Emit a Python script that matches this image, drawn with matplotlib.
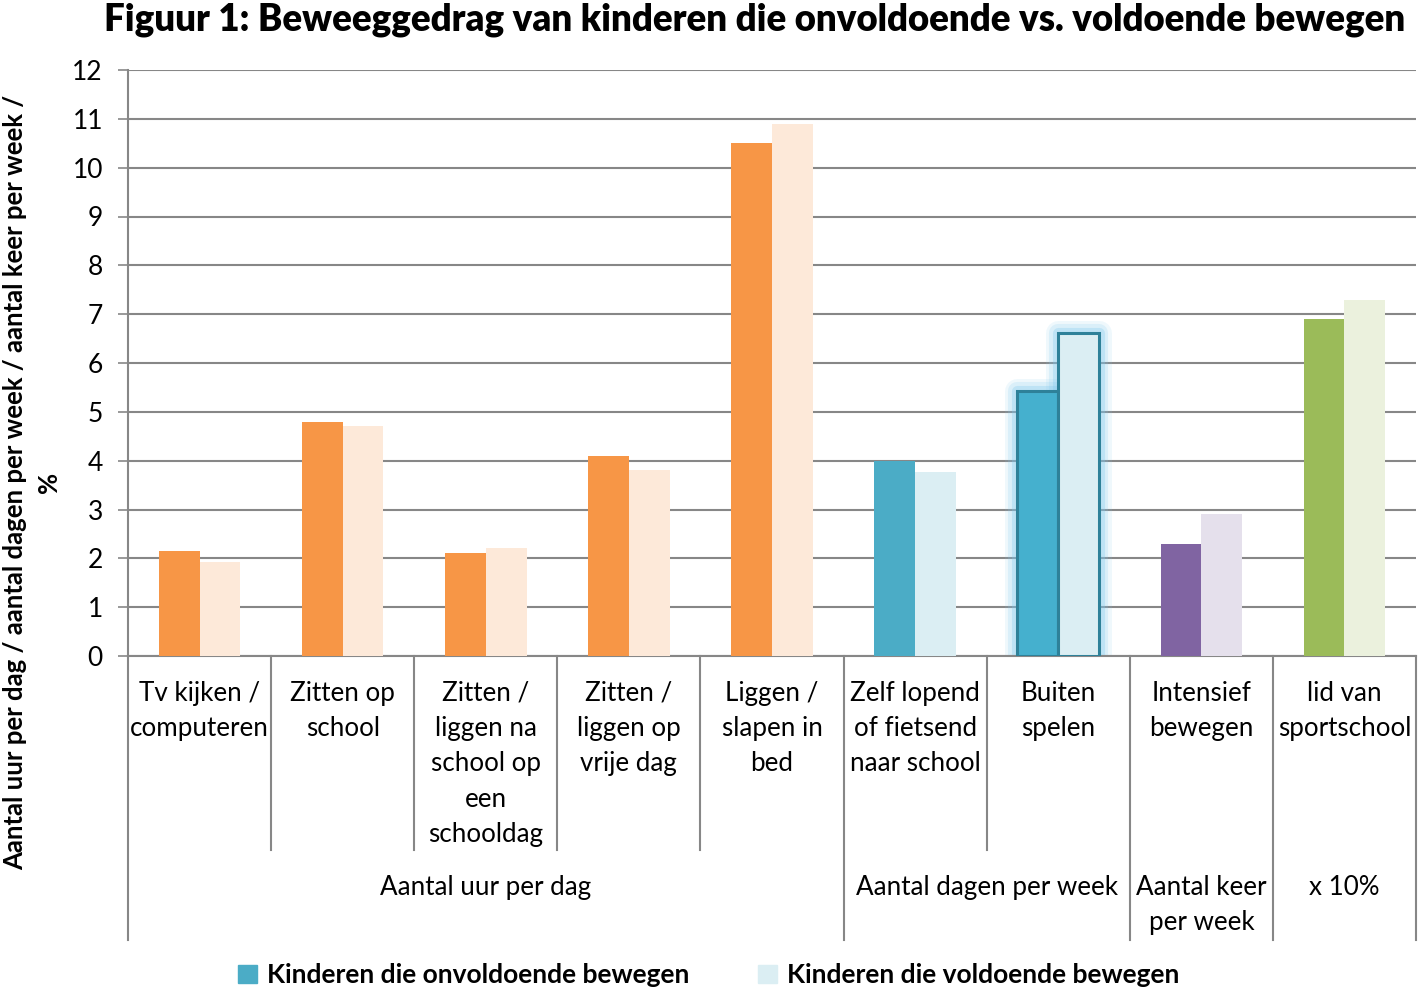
"""Beweeggedrag van kinderen: onvoldoende vs. voldoende bewegen"""

import matplotlib
matplotlib.use("Agg")
import matplotlib.pyplot as plt
import matplotlib.transforms as mtransforms
from matplotlib.patches import Patch

plt.rcParams["font.family"] = ["Lato", "DejaVu Sans"]

# data
categories = [
    "Tv kijken /\ncomputeren",
    "Zitten op\nschool",
    "Zitten /\nliggen na\nschool op\neen\nschooldag",
    "Zitten /\nliggen op\nvrije dag",
    "Liggen /\nslapen in\nbed",
    "Zelf lopend\nof fietsend\nnaar school",
    "Buiten\nspelen",
    "Intensief\nbewegen",
    "lid van\nsportschool",
]
onvoldoende = [2.15, 4.8, 2.1, 4.1, 10.5, 4.0, 5.42, 2.3, 6.9]
voldoende = [1.93, 4.7, 2.22, 3.8, 10.9, 3.77, 6.62, 2.9, 7.3]
groups = ["Aantal uur per dag", "Aantal dagen per week", "Aantal keer\nper week", "x 10%"]
group_sizes = [5, 2, 1, 1]
series_names = ["Kinderen die onvoldoende bewegen", "Kinderen die voldoende bewegen"]

# colours per category (dark, light)
dark = ["#F79646"] * 5 + ["#4BACC6"] * 2 + ["#8064A2", "#9BBB59"]
light = ["#FDE9D9"] * 5 + ["#DBEEF3"] * 2 + ["#E5E0EC", "#EBF1DD"]

W, H = 1418, 993
fig = plt.figure(figsize=(W / 100, H / 100), dpi=100)
ax = fig.add_axes([128 / W, (H - 656) / H, 1288 / W, 586 / H])

grid_col = "#878787"
n = len(categories)
bw = 0.285
x = [i + 0.5 for i in range(n)]

for i in range(n):
    if i == 6:
        # glow around the highlighted pair
        for lw, a in [(18, 0.12), (13, 0.18), (8, 0.3)]:
            for xx, v in [(x[i] - bw, onvoldoende[i]), (x[i], voldoende[i])]:
                ax.add_patch(plt.Rectangle((xx, 0), bw, v, fill=False, ec="#7FC8EE",
                                           lw=lw, alpha=a, zorder=2, joinstyle="round"))
        ax.bar(x[i] - bw / 2, onvoldoende[i], bw, color="#45B0CE", ec="#2E8199", lw=2.2, zorder=3)
        ax.bar(x[i] + bw / 2, voldoende[i], bw, color=light[i], ec="#2E8199", lw=2.2, zorder=3)
    else:
        ax.bar(x[i] - bw / 2, onvoldoende[i], bw, color=dark[i], zorder=3)
        ax.bar(x[i] + bw / 2, voldoende[i], bw, color=light[i], zorder=3)

ax.set_xlim(0, n)
ax.set_ylim(0, 12)
ax.set_yticks(range(0, 13))
ax.yaxis.grid(True, color=grid_col, lw=1.5)
ax.set_axisbelow(True)
ax.set_xticks([])
ax.tick_params(axis="y", direction="out", length=7, width=1.2, color=grid_col,
               labelsize=19, pad=11)
for s in ["top", "right"]:
    ax.spines[s].set_visible(False)
for s in ["left", "bottom"]:
    ax.spines[s].set_color(grid_col)
    ax.spines[s].set_linewidth(1.5)

# multi-level category axis
trans = mtransforms.blended_transform_factory(ax.transData, ax.transAxes)
inner_low = -194 / 586
outer_low = -284 / 586
bounds = [0]
for g in group_sizes:
    bounds.append(bounds[-1] + g)
for k in range(n + 1):
    low = outer_low if k in bounds else inner_low
    ax.plot([k, k], [0, low], color=grid_col, lw=1.5, transform=trans, clip_on=False)

for i, lab in enumerate(categories):
    ax.text(x[i], -25 / 586, lab, transform=trans, ha="center", va="top",
            fontsize=18.7, linespacing=1.51)

for g, lab in enumerate(groups):
    cx = (bounds[g] + bounds[g + 1]) / 2
    ax.text(cx, -219 / 586, lab, transform=trans, ha="center", va="top",
            fontsize=18.7, linespacing=1.51)

fig.text(755 / W, 1 - 20 / H,
         "Figuur 1: Beweeggedrag van kinderen die onvoldoende vs. voldoende bewegen",
         ha="center", va="center", fontsize=26.4, fontweight="heavy")

fig.text(32 / W, 1 - 482 / H,
         "Aantal uur per dag / aantal dagen per week / aantal keer per week /\n%",
         rotation=90, ha="center", va="center", fontsize=18.5, fontweight="bold",
         linespacing=1.5, multialignment="center")

handles = [Patch(color="#4BACC6"), Patch(color="#DBEEF3")]
fig.legend(handles, series_names, loc="center", bbox_to_anchor=(709 / W, 1 - 975 / H),
           ncol=2, frameon=False, handlelength=0.7, handleheight=0.7,
           handletextpad=0.4, columnspacing=2.6,
           prop={"size": 19, "weight": "bold"})

fig.savefig("out.png", dpi=100)
